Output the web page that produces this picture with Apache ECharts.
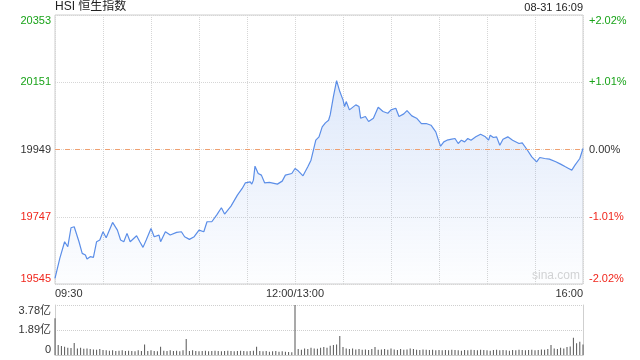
<!DOCTYPE html>
<html><head><meta charset="utf-8">
<script src="https://cdn.jsdelivr.net/npm/echarts@6/dist/echarts.min.js"></script>
<style>html,body{margin:0;padding:0;background:#fff}#c{width:640px;height:360px}</style>
</head><body><div id="c"></div>
<script>
const TITLE = 'HSI 恒生指数';
const STAMP = '08-31 16:09';
const PREV_CLOSE = 19949;
const PRICE_MIN = 19545, PRICE_MAX = 20353, PRICE_STEP = 202;
const PCT_TICKS = [-2.02, -1.01, 0, 1.01, 2.02];
const X_LABELS = {0: '09:30', 150: '12:00/13:00', 330: '16:00'};
const VOL_MAX = 3.78;

const times = ['09:30','09:33','09:34','09:36','09:38','09:40','09:42','09:45','09:47','09:49','09:50','09:52','09:54','09:56','09:58',
'10:00','10:02','10:03','10:06','10:09','10:11','10:13','10:15','10:17','10:21','10:23','10:25','10:27','10:30','10:32','10:35','10:36','10:39','10:42','10:46','10:49','10:51','10:54','10:57',
'11:00','11:03','11:05','11:08','11:11','11:14','11:16','11:20','11:24','11:27','11:29','11:32','11:33','11:34','11:35','11:37','11:39','11:41','11:44','11:49','11:52','11:54','11:58','12:00',
'13:02','13:03','13:05','13:08','13:10','13:13','13:15','13:17','13:19','13:21','13:22','13:24','13:26','13:28','13:30','13:31','13:32','13:34','13:38','13:40','13:41','13:44','13:46','13:49','13:52','13:55','13:58',
'14:00','14:03','14:05','14:08','14:10','14:13','14:16','14:19','14:22','14:25','14:28','14:30','14:31','14:33','14:35','14:38','14:40','14:42','14:44','14:46','14:48','14:50','14:53','14:56','14:59',
'15:01','15:02','15:04','15:06','15:08','15:10','15:13','15:16','15:20','15:22','15:25','15:28','15:31','15:33','15:36','15:39','15:43','15:46','15:49','15:51','15:53','15:55','15:58','16:00'];
const prices = [19562,19622,19627,19672,19657,19714,19717,19672,19637,19632,19620,19627,19625,19672,19677,
19702,19684,19687,19730,19707,19677,19672,19697,19672,19690,19672,19655,19677,19712,19687,19692,19672,19702,19692,19700,19702,19687,19679,19687,
19707,19702,19732,19732,19752,19774,19755,19779,19812,19832,19849,19852,19845,19857,19899,19877,19872,19849,19850,19845,19854,19872,19877,19892,
19885,19882,19870,19897,19917,19977,19987,20017,20029,20037,20053,20108,20156,20123,20098,20078,20093,20068,20083,20078,20043,20048,20033,20043,20076,20063,20058,
20068,20073,20048,20056,20066,20050,20043,20027,20027,20022,20002,19972,19959,19972,19977,19980,19982,19967,19977,19972,19982,19977,19987,19995,19987,
19977,19992,19985,19987,19962,19980,19987,19977,19967,19969,19949,19927,19912,19925,19922,19920,19912,19905,19897,19892,19887,19902,19922,19952];

// volume (亿), one bar every 2 minutes of trading from 09:30
const volumes = [2.77,0.75,0.68,0.62,0.55,0.52,0.9,0.5,0.55,0.48,0.5,0.45,0.42,0.4,0.45,
0.38,0.35,0.33,0.35,0.3,0.32,0.35,0.3,0.33,0.3,0.28,0.35,0.3,
0.8,
0.3,0.35,0.3,0.28,0.63,0.32,0.3,0.35,0.3,0.32,0.28,0.35,
1.21,
0.3,0.35,0.3,0.28,0.3,0.32,0.28,0.3,0.33,0.3,0.28,0.3,0.32,0.3,0.28,0.3,0.33,0.3,0.28,0.3,0.32,
0.63,
0.3,0.28,0.3,0.25,0.28,0.3,0.25,0.28,0.25,0.22,0.2,
3.78,
0.45,0.4,0.5,0.45,0.55,0.5,0.48,0.55,0.6,0.55,0.7,0.75,0.8,
1.44,
0.6,0.5,0.45,0.5,0.42,0.45,0.4,0.42,0.38,0.45,0.6,0.4,0.42,0.45,0.4,0.5,0.42,0.38,0.45,0.4,0.42,0.5,0.45,0.4,0.38,0.42,0.4,0.38,0.4,0.35,0.38,
0.35,0.38,0.35,0.4,0.38,0.35,0.33,0.38,0.35,0.4,0.38,0.35,0.4,0.38,0.35,0.33,0.38,0.4,0.35,0.38,0.35,0.33,0.38,0.35,0.4,0.38,0.35,0.38,0.4,0.35,0.38,0.42,0.4,0.45,
0.76,
0.5,0.45,0.55,0.5,0.6,0.65,1.3,0.88,1.0,0.8];

function toIdx(s){const p=s.split(':').map(Number);const m=p[0]*60+p[1];return m<=720?m-570:m-780+150;}

const FONT = '"Liberation Sans", Arial, "Noto Sans CJK SC", sans-serif';
const GREEN = '#19a319', RED = '#f0261c', DARK = '#333';
const LINE = '#5b8ee8';

const chart = echarts.init(document.getElementById('c'), null, {renderer: 'canvas'});
chart.setOption({
  animation: false,
  textStyle: {fontFamily: FONT},
  grid: [
    {left: 55, right: 57, top: 15, height: 269, show: true, borderColor: '#cfcfcf', borderWidth: 1, containLabel: false},
    {left: 55, right: 57, top: 305, height: 50, containLabel: false}
  ],
  graphic: [
    {type: 'text', left: 55, top: 1, style: {text: TITLE, font: '12px ' + FONT, fill: '#222'}},
    {type: 'text', right: 57, top: 2, style: {text: STAMP, font: '11px ' + FONT, fill: '#222'}},
    {type: 'text', right: 60, top: 270, style: {text: 'sina.com', font: '12px ' + FONT, fill: '#d4d4d4'}}
  ],
  xAxis: [
    {type: 'value', gridIndex: 0, min: 0, max: 330, interval: 30,
     axisLine: {show: false}, axisTick: {show: false},
     splitLine: {show: true, lineStyle: {color: '#d6d6d6', type: 'dotted'}},
     axisLabel: {show: true, margin: 4, fontSize: 11, color: DARK, showMinLabel: true, showMaxLabel: true,
       alignMinLabel: 'left', alignMaxLabel: 'right',
       formatter: v => X_LABELS[v] || ''}},
    {type: 'value', gridIndex: 1, min: 0, max: 330, interval: 30,
     axisLine: {show: true, lineStyle: {color: '#cfcfcf'}}, axisTick: {show: false},
     splitLine: {show: false}, axisLabel: {show: false}}
  ],
  yAxis: [
    {type: 'value', gridIndex: 0, min: PRICE_MIN, max: PRICE_MAX, interval: PRICE_STEP,
     axisLine: {show: false}, axisTick: {show: false},
     splitLine: {show: true, lineStyle: {color: '#d6d6d6', type: 'dotted'}},
     axisLabel: {margin: 4, fontSize: 11, verticalAlignMaxLabel: 'top', verticalAlignMinLabel: 'bottom',
       color: v => v > PREV_CLOSE + 0.5 ? GREEN : (v < PREV_CLOSE - 0.5 ? RED : DARK),
       formatter: v => String(Math.round(v))}},
    {type: 'value', gridIndex: 0, position: 'right', min: PCT_TICKS[0], max: PCT_TICKS[4], interval: PCT_TICKS[4] - PCT_TICKS[3],
     axisLine: {show: false}, axisTick: {show: false}, splitLine: {show: false},
     axisLabel: {margin: 6, fontSize: 11, verticalAlignMaxLabel: 'top', verticalAlignMinLabel: 'bottom',
       color: v => v > 0.001 ? GREEN : (v < -0.001 ? RED : DARK),
       formatter: v => { if (Math.abs(v) < 0.001) return '0.00%'; return (v > 0 ? '+' : '') + v.toFixed(2) + '%'; }}},
    {type: 'value', gridIndex: 1, min: 0, max: VOL_MAX, interval: VOL_MAX / 2,
     axisLine: {show: true, lineStyle: {color: '#cfcfcf'}}, axisTick: {show: false},
     splitLine: {show: true, lineStyle: {color: '#cfcfcf', type: 'dotted'}},
     axisLabel: {margin: 4, fontSize: 11, color: DARK, verticalAlignMaxLabel: 'top', verticalAlignMinLabel: 'bottom',
       formatter: v => v < 0.001 ? '0' : v.toFixed(2) + '亿'}},
    {type: 'value', gridIndex: 1, position: 'right', min: 0, max: VOL_MAX, interval: VOL_MAX / 2,
     axisLine: {show: true, lineStyle: {color: '#cfcfcf'}}, axisTick: {show: false},
     splitLine: {show: false}, axisLabel: {show: false}}
  ],
  series: [
    {type: 'line', xAxisIndex: 0, yAxisIndex: 0, symbol: 'none', smooth: false,
     data: times.map((t, i) => [toIdx(t), prices[i]]),
     lineStyle: {color: LINE, width: 1.2},
     areaStyle: {origin: 'start', color: new echarts.graphic.LinearGradient(0, 0, 0, 1, [
       {offset: 0, color: 'rgba(91,142,232,0.28)'}, {offset: 1, color: 'rgba(91,142,232,0.02)'}])},
     markLine: {silent: true, symbol: 'none', label: {show: false},
       lineStyle: {color: '#f0a070', type: [5, 5], width: 1},
       data: [{yAxis: PREV_CLOSE}]}},
    {type: 'bar', xAxisIndex: 1, yAxisIndex: 2, barWidth: 1,
     itemStyle: {color: '#555'},
     data: volumes.map((v, i) => [i * 2, v])}
  ]
});
</script>
</body></html>
